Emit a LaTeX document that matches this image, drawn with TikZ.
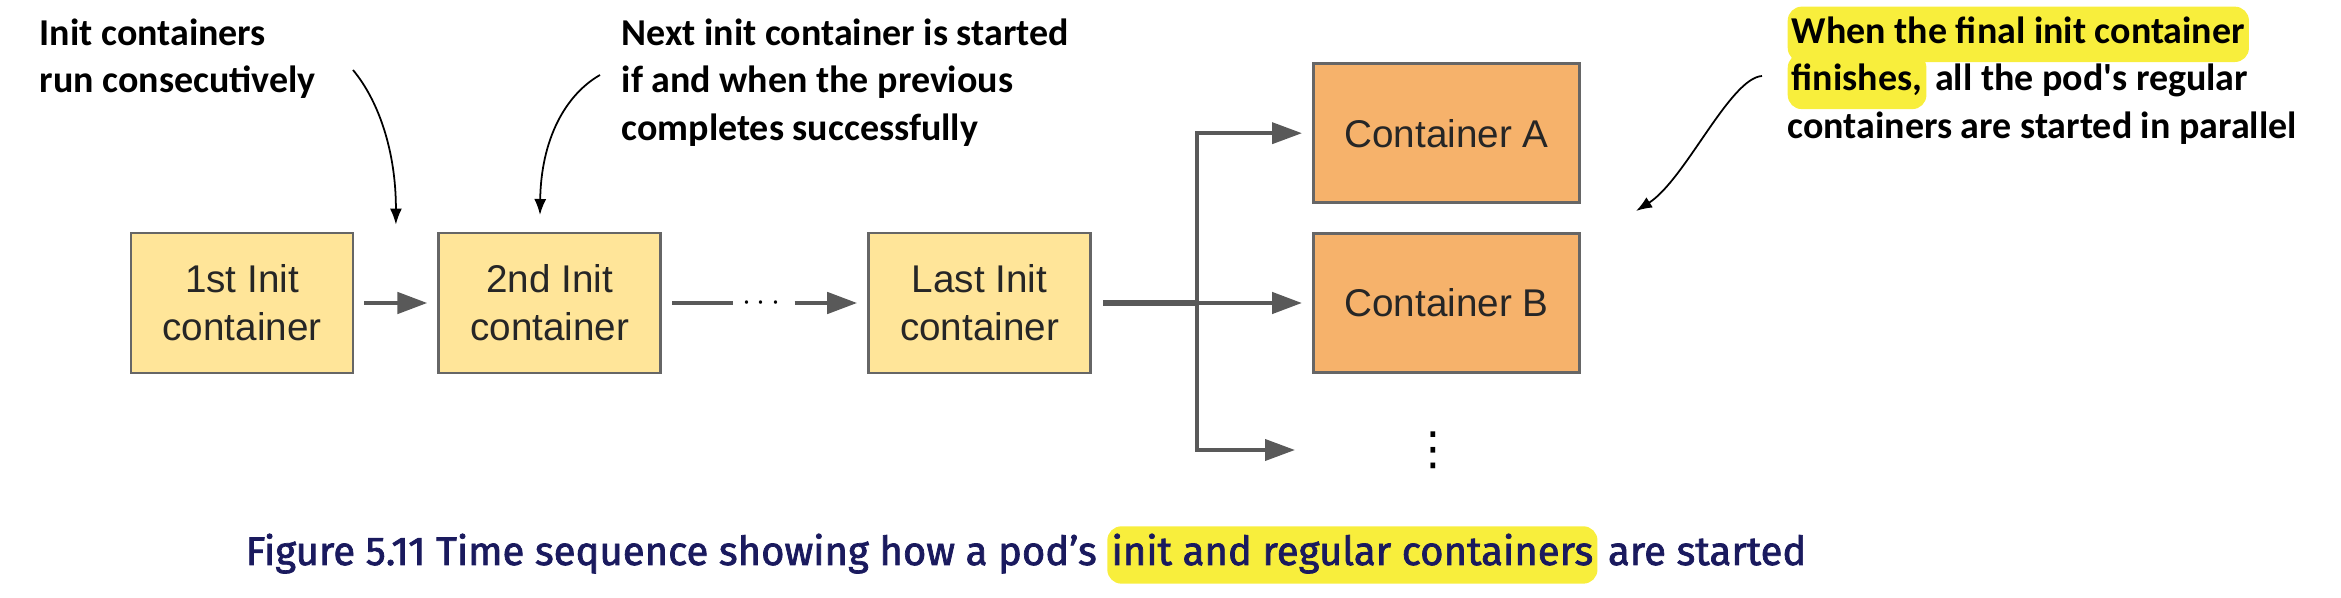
\documentclass[tikz,border=0pt]{standalone}
\usepackage{fontspec}
\usepackage{amsmath}
\usetikzlibrary{positioning,arrows.meta,calc}
\newfontfamily\boxfont{Liberation Sans}
\newfontfamily\notefont{Carlito}
\newfontfamily\symfont{DejaVu Sans}
\newfontfamily\capfont[FakeBold=1.8]{Fira Sans}
\definecolor{initfill}{RGB}{255,229,153}
\definecolor{runfill}{RGB}{246,178,107}
\definecolor{boxline}{RGB}{102,102,102}
\definecolor{flowgray}{RGB}{89,89,89}
\definecolor{hlyellow}{RGB}{248,238,60}
\definecolor{capblue}{RGB}{26,26,94}
\newcommand{\hlt}[1]{\vphantom{W}\smash{\tikz[baseline=(h.base)]\node[fill=hlyellow,rounded corners=4pt,inner xsep=1.2pt,inner ysep=2.8pt,text height=0.72em,text depth=0.22em,anchor=base] (h) {#1};}}

\begin{document}
\begin{tikzpicture}[
    initbox/.style={draw=boxline,line width=0.8pt,fill=initfill,minimum width=2.22cm,minimum height=1.4cm,align=center,text=black!85,font=\boxfont\fontsize{11}{13.6}\selectfont},
    runbox/.style={initbox,fill=runfill,minimum width=2.66cm,minimum height=1.39cm},
    flowline/.style={draw=flowgray,line width=1.3pt},
    flow/.style={flowline,-{Triangle[length=3mm,width=2.1mm]}},
    note/.style={inner sep=0pt,anchor=north west,align=left,font=\notefont\bfseries\fontsize{10.8}{13.4}\selectfont},
    pointer/.style={black,line width=0.5pt,-{Latex[length=1.6mm,width=1.2mm]}}]
    \useasboundingbox (0,0) rectangle (23.41,-5.98);
    % init containers, one after the other
    \node[initbox] (first) at (2.42,-3.03) {1st Init\\container};
    \node[initbox,right=0.83cm of first] (second) {2nd Init\\container};
    \node[initbox,right=2.05cm of second] (last) {Last Init\\container};
    \node[inner sep=0pt,minimum width=0.6cm,right=0.71cm of second,font=\fontsize{9}{9}\selectfont] (dots) {$\cdots$};
    % regular containers
    \node[runbox,right=2.20cm of last] (contB) {Container B};
    \node[runbox,above=0.28cm of contB] (contA) {Container A};
    \node[inner sep=0pt,font=\symfont\fontsize{13}{13}\selectfont] (more) at (14.33,-4.50) {⋮};
    \coordinate (split) at (11.97,-3.03);
    \coordinate (moreend) at (12.95,-4.50);
    \draw[flow,shorten <=0.1cm,shorten >=0.1cm] (first) -- (second);
    \draw[flowline,shorten <=0.1cm] (second) -- (dots);
    \draw[flow,shorten >=0.1cm] (dots) -- (last);
    \draw[flowline,line width=1.9pt,shorten <=0.11cm] (last) -- (split);
    \draw[flow,shorten >=0.1cm] (split) -- (contB);
    \draw[flow,line width=1.1pt,shorten >=0.1cm] (split) |- (contA);
    \draw[flow,line width=1.1pt] (split) |- (moreend);
    % notes
    \node[note] (noteRun) at (0.39,-0.185) {Init containers\\run consecutively};
    \node[note] (noteNext) at (6.21,-0.185) {Next init container is started\\if and when the previous\\completes successfully};
    \node[note] (noteFinal) at (17.87,-0.185) {\hlt{When the final init container}\\\hlt{finishes,} all the pod's regular\\containers are started in parallel};
    \coordinate (runStart) at (3.53,-0.70);
    \coordinate (runTip) at ($(first.north east)!0.5!(second.north west)+(0,0.07)$);
    \coordinate (nextStart) at (6.00,-0.75);
    \coordinate (nextTip) at (5.40,-2.15);
    \coordinate (finalStart) at (17.62,-0.76);
    \coordinate (finalTip) at (16.36,-2.11);
    \draw[pointer] (runStart) .. controls (3.78,-1.00) and (3.96,-1.50) .. (runTip);
    \draw[pointer] (nextStart) .. controls (5.65,-0.95) and (5.41,-1.40) .. (nextTip);
    \draw[pointer] (finalStart) .. controls (17.30,-0.78) and (16.85,-1.80) .. (finalTip);
    % caption
    \node[anchor=base west,inner sep=0pt,text=capblue,font=\capfont\fontsize{11.4}{13}\selectfont] (caption) at (2.45,-5.65) {Figure 5.11 Time sequence showing how a pod’s \hlt{init and regular containers} are started};
\end{tikzpicture}
\end{document}
